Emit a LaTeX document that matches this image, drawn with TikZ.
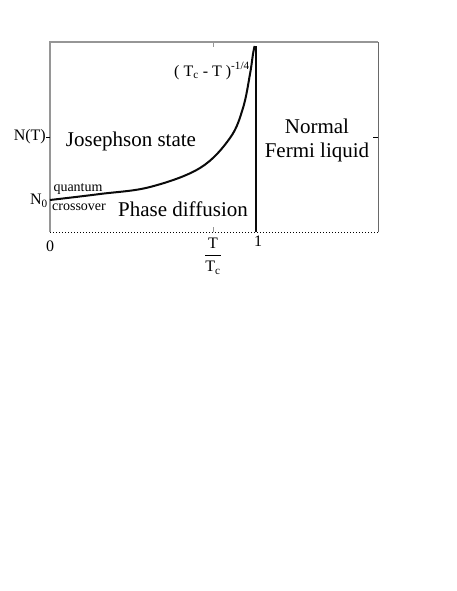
\documentclass[tikz,border=0pt]{standalone}
\usepackage{fontspec}
\setmainfont{Liberation Serif}
\usepackage{amsmath}
\definecolor{FrameGray}{RGB}{150,150,150}
\definecolor{CurveBlack}{RGB}{10,10,10}

\begin{document}
\begin{tikzpicture}[x=1pt,y=-1pt,
  bigtext/.style={font=\fontsize{21}{24}\selectfont},
  axtext/.style={font=\fontsize{16}{18}\selectfont},
  smalltext/.style={font=\fontsize{14}{15}\selectfont, inner sep=0pt}
]
\useasboundingbox (0,0) rectangle (457,591);

% frame
\draw[FrameGray, line width=1.4pt] (50,232) -- (50,42) -- (378,42);
\draw[FrameGray!70!black, line width=1pt] (378,42) -- (378,232);
\draw[black, line width=1pt, dotted] (50,232) -- (378,232);

% ticks
\draw[FrameGray, line width=1pt] (213,42) -- (213,47);
\draw[FrameGray, line width=1pt] (213,232) -- (213,227);
\draw[black, line width=0.8pt] (50,137) -- (46,137);
\draw[black, line width=0.8pt] (378,137) -- (373,137);

% phase boundary
\draw[CurveBlack, line width=2pt] (256,232) -- (256,46);
\draw[CurveBlack, line width=2pt, line join=round]
  plot[smooth, tension=0.6] coordinates {(50,200) (100,194) (150,187) (200,168)
    (230,138) (243,108) (250,74) (253,54) (254.6,46)};

% axis labels
\node[axtext, anchor=east, inner sep=0pt] (nt) at (46,137) {N(T)};
\node[axtext, anchor=east, inner sep=1pt] (nzero) at (49,201) {N\textsubscript{0}};
\node[axtext] (zero) at (50,246) {0};
\node[axtext] (one) at (258,241) {1};
\node[axtext] (ratio) at (213,256) {$\dfrac{\text{T}}{\text{T}_\text{c}}$};
\node[axtext] (power) at (212,71) {( T\textsubscript{c} - T )\textsuperscript{-1/4}};

% regions
\node[bigtext] (josephson) at (131,141) {Josephson state};
\node[bigtext] (diffusion) at (183,209) {Phase diffusion};
\node[bigtext, align=center] (normal) at (317,140) {Normal\\Fermi liquid};
\node[smalltext] (quantum) at (78,189) {quantum};
\node[smalltext] (crossover) at (79,207) {crossover};
\end{tikzpicture}
\end{document}
